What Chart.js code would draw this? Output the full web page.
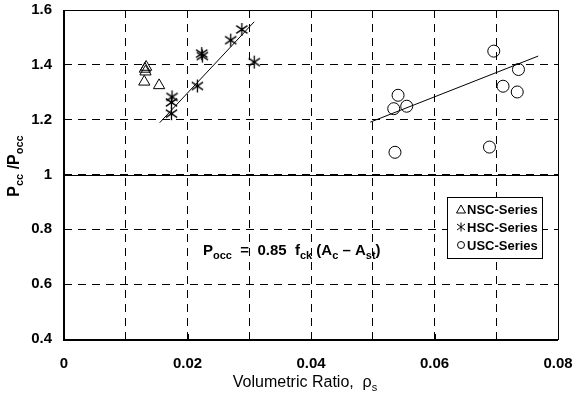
<!DOCTYPE html>
<html>
<head>
<meta charset="utf-8">
<script src="https://cdn.jsdelivr.net/npm/chart.js@4"></script>
<style>
  html, body { margin: 0; padding: 0; background: #fff; }
  #wrap { width: 576px; height: 394px; position: relative; }
</style>
</head>
<body>
<div id="wrap"><canvas id="chart" width="576" height="394"></canvas></div>
<script>
/* Pcc/Pocc vs volumetric ratio — scatter with fit lines */

// ── Data ─────────────────────────────────────────────────────────────────
const nscX = [0.0131, 0.0132, 0.0133, 0.0130, 0.0154];
const nscY = [1.385, 1.375, 1.392, 1.338, 1.325];

const hscX = [0.0175, 0.0174, 0.0174, 0.0216, 0.0223, 0.0224, 0.0270, 0.0288, 0.0308];
const hscY = [1.283, 1.263, 1.222, 1.323, 1.441, 1.432, 1.490, 1.529, 1.410];

const uscX = [0.0696, 0.0736, 0.0711, 0.0734, 0.0541, 0.0534, 0.0555, 0.0536, 0.0689];
const uscY = [1.450, 1.383, 1.322, 1.301, 1.289, 1.240, 1.249, 1.081, 1.100];

const hscFitX = [0.0155, 0.0308];
const hscFitY = [1.189, 1.557];
const uscFitX = [0.0496, 0.0768];
const uscFitY = [1.191, 1.432];

const xTicks = [0, 0.02, 0.04, 0.06, 0.08];
const legendLabels = ['NSC-Series', 'HSC-Series', 'USC-Series'];

const FONT = '"Liberation Sans", Arial, sans-serif';

function pts(xs, ys) {
    return xs.map((x, i) => ({ x, y: ys[i] }));
}

// six-armed asterisk marker (X plus vertical bar)
function makeAsterisk(size) {
    const c = document.createElement('canvas');
    c.width = size; c.height = size;
    const g = c.getContext('2d');
    const m = size / 2, r = size / 2 - 1;
    g.strokeStyle = '#000';
    g.lineWidth = 1.3;
    g.beginPath();
    g.moveTo(m - r * 0.87, m - r * 0.6); g.lineTo(m + r * 0.87, m + r * 0.6);
    g.moveTo(m - r * 0.87, m + r * 0.6); g.lineTo(m + r * 0.87, m - r * 0.6);
    g.moveTo(m, m - r); g.lineTo(m, m + r);
    g.stroke();
    g.fillStyle = '#000';
    g.fillRect(m - 1.5, m - 1.5, 3, 3);
    return c;
}
const asterisk = makeAsterisk(15);

// text with subscripts: parts = [[text, isSub], ...]
function richWidth(ctx, parts, size, weight) {
    let w = 0;
    parts.forEach(([t, sub]) => {
        ctx.font = weight + ' ' + (sub ? Math.round(size * 0.7) : size) + 'px ' + FONT;
        w += ctx.measureText(t).width;
    });
    return w;
}
function drawRich(ctx, parts, x, y, size, weight) {
    ctx.textBaseline = 'alphabetic';
    ctx.textAlign = 'left';
    parts.forEach(([t, sub]) => {
        ctx.font = weight + ' ' + (sub ? Math.round(size * 0.7) : size) + 'px ' + FONT;
        ctx.fillText(t, x, sub ? y + size * 0.25 : y);
        x += ctx.measureText(t).width;
    });
}

// ── Frame, y=1 line, labels, legend ─────────────────────────────────────
const decorPlugin = {
    id: 'decor',
    beforeDatasetsDraw(chart) {
        const { ctx, chartArea: a, scales } = chart;
        ctx.save();
        ctx.strokeStyle = '#000';
        ctx.setLineDash([]);
        // solid reference line at 1
        const y1 = Math.round(scales.y.getPixelForValue(1)) + 0.5;
        ctx.lineWidth = 1;
        ctx.beginPath();
        ctx.moveTo(a.left, y1); ctx.lineTo(a.right, y1);
        ctx.stroke();
        // inner ticks on the x axis
        xTicks.forEach(v => {
            const px = Math.round(scales.x.getPixelForValue(v)) + 0.5;
            ctx.beginPath();
            ctx.moveTo(px, a.bottom); ctx.lineTo(px, a.bottom - 5);
            ctx.stroke();
        });
        // frame
        ctx.strokeRect(a.left + 0.5, a.top + 0.5, a.right - a.left, a.bottom - a.top);
        ctx.lineWidth = 2;
        ctx.beginPath();
        ctx.moveTo(a.left, a.top); ctx.lineTo(a.left, a.bottom + 1);
        ctx.lineTo(a.right, a.bottom + 1);
        ctx.stroke();
        ctx.restore();
    },
    afterDraw(chart) {
        const { ctx, chartArea: a } = chart;
        ctx.save();
        ctx.fillStyle = '#000';

        // equation
        drawRich(ctx, [['P', 0], ['occ', 1], ['  =  0.85  f', 0], ['ck', 1], [' (A', 0], ['c', 1], [' \u2013 A', 0], ['st', 1], [')', 0]], 203, 255, 15, 'bold');

        // y title, rotated
        const yParts = [['P', 0], ['cc', 1], [' /P', 0], ['occ', 1]];
        const yw = richWidth(ctx, yParts, 16, 'bold');
        ctx.save();
        ctx.translate(19, 166);
        ctx.rotate(-Math.PI / 2);
        drawRich(ctx, yParts, -yw / 2, 0, 16, 'bold');
        ctx.restore();

        // x title
        const xParts = [['Volumetric Ratio,  \u03c1', 0], ['s', 1]];
        const xw = richWidth(ctx, xParts, 16, 'normal');
        drawRich(ctx, xParts, (a.left + a.right) / 2 - xw / 2 - 6, 387, 16, 'normal');

        // legend box
        const bx = 447, by = 197, bw = 95, bh = 61;
        ctx.fillStyle = '#fff';
        ctx.fillRect(bx, by, bw, bh);
        ctx.strokeStyle = '#000';
        ctx.lineWidth = 1;
        ctx.strokeRect(bx + 0.5, by + 0.5, bw, bh);
        ctx.fillStyle = '#000';
        ctx.font = 'bold 13px "Liberation Sans Narrow", "Liberation Sans", sans-serif';
        ctx.textBaseline = 'middle';
        legendLabels.forEach((lab, i) => {
            const ly = by + 12 + i * 18;
            const sx = bx + 14;
            ctx.beginPath();
            if (i === 0) {
                ctx.moveTo(sx, ly - 4); ctx.lineTo(sx + 4.5, ly + 4); ctx.lineTo(sx - 4.5, ly + 4); ctx.closePath();
                ctx.stroke();
            } else if (i === 1) {
                ctx.moveTo(sx - 4, ly - 3); ctx.lineTo(sx + 4, ly + 3);
                ctx.moveTo(sx - 4, ly + 3); ctx.lineTo(sx + 4, ly - 3);
                ctx.moveTo(sx, ly - 4.5); ctx.lineTo(sx, ly + 4.5);
                ctx.stroke();
            } else {
                ctx.arc(sx, ly, 3.5, 0, Math.PI * 2);
                ctx.stroke();
            }
            ctx.fillText(lab, sx + 6, ly + 1);
        });
        ctx.restore();
    }
};

// ── Chart ────────────────────────────────────────────────────────────────
const markerBase = { borderColor: '#000', backgroundColor: 'rgba(0,0,0,0)', borderWidth: 1, showLine: false };

new Chart(document.getElementById('chart'), {
    type: 'scatter',
    data: {
        datasets: [
            { ...markerBase, label: 'NSC-Series', data: pts(nscX, nscY), pointStyle: 'triangle', pointRadius: 6.5 },
            { ...markerBase, label: 'HSC-Series', data: pts(hscX, hscY), pointStyle: asterisk, pointRadius: 7 },
            { ...markerBase, label: 'USC-Series', data: pts(uscX, uscY), pointStyle: 'circle', pointRadius: 6 },
            { label: 'HSC fit', data: pts(hscFitX, hscFitY), showLine: true, pointRadius: 0, borderColor: '#000', borderWidth: 1 },
            { label: 'USC fit', data: pts(uscFitX, uscFitY), showLine: true, pointRadius: 0, borderColor: '#000', borderWidth: 1 },
        ],
    },
    options: {
        responsive: false,
        animation: false,
        layout: { padding: { left: 0, right: 18, top: 10, bottom: 0 } },
        plugins: {
            legend: { display: false },
            tooltip: { enabled: false },
        },
        scales: {
            x: {
                type: 'linear',
                min: 0,
                max: 0.08,
                afterFit: s => { s.height = 55; s.paddingRight = 0; s.paddingLeft = 0; },
                grid: { color: '#000', lineWidth: 1, drawTicks: false },
                border: { display: false, dash: [8, 6] },
                ticks: {
                    stepSize: 0.01,
                    padding: 16,
                    color: '#000',
                    font: { family: FONT, size: 15, weight: 'bold' },
                    callback: v => (Math.round(v * 100) % 2 === 0 ? String(Number(v.toFixed(2))) : ''),
                },
            },
            y: {
                min: 0.4,
                max: 1.6,
                afterFit: s => { s.width = 64; s.paddingTop = 0; s.paddingBottom = 0; },
                grid: { color: '#000', lineWidth: 1, drawTicks: false },
                border: { display: false, dash: [8, 6] },
                ticks: {
                    stepSize: 0.2,
                    padding: 12,
                    color: '#000',
                    font: { family: FONT, size: 15, weight: 'bold' },
                    callback: v => String(Number(v.toFixed(1))),
                },
            },
        },
    },
    plugins: [decorPlugin],
});
</script>
</body>
</html>
